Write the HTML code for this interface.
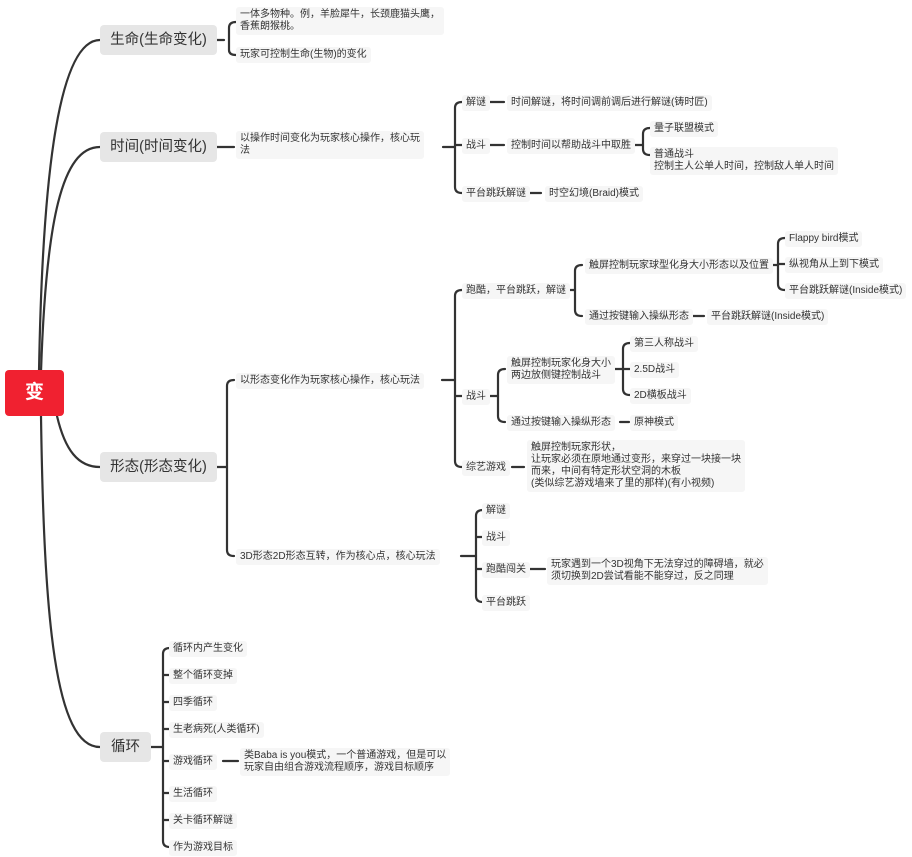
<!DOCTYPE html>
<html><head><meta charset="utf-8"><style>
body{margin:0;width:912px;height:857px;background:#fff;position:relative;overflow:hidden;font-family:"Liberation Sans","Noto Sans CJK SC",sans-serif;}
.t{position:absolute;font-size:10px;line-height:12px;color:#333;background:#f6f6f6;padding:2px 4px;border-radius:3px;white-space:nowrap;}
.m{position:absolute;font-size:14.5px;color:#333;background:#e6e6e6;border-radius:4px;text-align:center;line-height:30px;height:30px;}
svg{position:absolute;left:0;top:0;}
</style></head><body>
<svg width="912" height="857" fill="none" stroke="#333" stroke-width="2.2" stroke-linecap="round">
<path d="M39 372 C42 200,55 40,100 40"/>
<path d="M41 372 C46 220,62 147,100 147"/>
<path d="M57 416 C65 450,78 467,100 467"/>
<path d="M41 416 C44 620,55 747,100 747"/>
<path d="M217 40 H224"/>
<path d="M236 22 Q229 22 229 28 L229 50 Q229 55 236 55"/>
<path d="M217 147 H234"/>
<path d="M443 147 H455"/>
<path d="M462 102 Q455 102 455 108 L455 187 Q455 193 462 193 M455 145 H462"/>
<path d="M490 102 H504 M490 145 H504 M529 193 H541"/>
<path d="M632 145 H643"/>
<path d="M650 128 Q643 128 643 134 L643 149 Q643 155 650 155"/>
<path d="M217 467 H226"/>
<path d="M234 380 Q227 380 227 386 L227 550 Q227 556 234 556"/>
<path d="M442 380 H455"/>
<path d="M462 290 Q455 290 455 296 L455 461 Q455 467 462 467 M455 396 H462"/>
<path d="M568 290 H575"/>
<path d="M582 265 Q575 265 575 271 L575 310 Q575 316 582 316"/>
<path d="M768 265 H778"/>
<path d="M785 238 Q778 238 778 244 L778 284 Q778 290 785 290 M778 264 H785"/>
<path d="M691 316 H704"/>
<path d="M488 396 H498"/>
<path d="M505 369 Q498 369 498 375 L498 416 Q498 422 505 422"/>
<path d="M614 369 H623"/>
<path d="M630 343 Q623 343 623 349 L623 389 Q623 395 630 395 M623 369 H630"/>
<path d="M620 422 H629"/>
<path d="M512 467 H524"/>
<path d="M461 556 H476"/>
<path d="M483 510 Q476 510 476 516 L476 596 Q476 602 483 602 M476 537 H483 M476 569 H483"/>
<path d="M530 569 H545"/>
<path d="M151 747 H163"/>
<path d="M170 648 Q163 648 163 654 L163 841 Q163 847 170 847 M163 675 H170 M163 702 H170 M163 729 H170 M163 761 H170 M163 793 H170 M163 820 H170"/>
<path d="M223 761 H238"/>
</svg>
<div style="position:absolute;left:5px;top:370px;width:59px;height:46px;background:#f02130;border-radius:4px;color:#fff;font-weight:bold;font-size:19px;line-height:46px;text-align:center;">变</div>
<div class="m" style="left:100px;top:25px;width:117px;">生命(生命变化)</div>
<div class="m" style="left:100px;top:132px;width:117px;">时间(时间变化)</div>
<div class="m" style="left:100px;top:452px;width:117px;">形态(形态变化)</div>
<div class="m" style="left:100px;top:732px;width:51px;">循环</div>

<div class="t" style="left:236px;top:7px;">一体多物种。例，羊脸犀牛，长颈鹿猫头鹰，<br>香蕉朗猴桃。</div>
<div class="t" style="left:236px;top:47px;">玩家可控制生命(生物)的变化</div>

<div class="t" style="left:236px;top:131px;">以操作时间变化为玩家核心操作，核心玩<br>法</div>
<div class="t" style="left:462px;top:95px;">解谜</div>
<div class="t" style="left:507px;top:95px;">时间解谜，将时间调前调后进行解谜(铸时匠)</div>
<div class="t" style="left:462px;top:138px;">战斗</div>
<div class="t" style="left:507px;top:138px;">控制时间以帮助战斗中取胜</div>
<div class="t" style="left:650px;top:121px;">量子联盟模式</div>
<div class="t" style="left:650px;top:147px;">普通战斗<br>控制主人公单人时间，控制敌人单人时间</div>
<div class="t" style="left:462px;top:186px;">平台跳跃解谜</div>
<div class="t" style="left:545px;top:186px;">时空幻境(Braid)模式</div>

<div class="t" style="left:236px;top:373px;">以形态变化作为玩家核心操作，核心玩法</div>
<div class="t" style="left:462px;top:283px;">跑酷，平台跳跃，解谜</div>
<div class="t" style="left:585px;top:258px;">触屏控制玩家球型化身大小形态以及位置</div>
<div class="t" style="left:785px;top:231px;">Flappy bird模式</div>
<div class="t" style="left:785px;top:257px;">纵视角从上到下模式</div>
<div class="t" style="left:785px;top:283px;">平台跳跃解谜(Inside模式)</div>
<div class="t" style="left:585px;top:309px;">通过按键输入操纵形态</div>
<div class="t" style="left:707px;top:309px;">平台跳跃解谜(Inside模式)</div>
<div class="t" style="left:462px;top:389px;">战斗</div>
<div class="t" style="left:507px;top:356px;">触屏控制玩家化身大小<br>两边放侧键控制战斗</div>
<div class="t" style="left:630px;top:336px;">第三人称战斗</div>
<div class="t" style="left:630px;top:362px;">2.5D战斗</div>
<div class="t" style="left:630px;top:388px;">2D横板战斗</div>
<div class="t" style="left:507px;top:415px;">通过按键输入操纵形态</div>
<div class="t" style="left:630px;top:415px;">原神模式</div>
<div class="t" style="left:462px;top:460px;">综艺游戏</div>
<div class="t" style="left:527px;top:440px;">触屏控制玩家形状，<br>让玩家必须在原地通过变形，来穿过一块接一块<br>而来，中间有特定形状空洞的木板<br>(类似综艺游戏墙来了里的那样)(有小视频)</div>

<div class="t" style="left:236px;top:549px;">3D形态2D形态互转，作为核心点，核心玩法</div>
<div class="t" style="left:482px;top:503px;">解谜</div>
<div class="t" style="left:482px;top:530px;">战斗</div>
<div class="t" style="left:482px;top:562px;">跑酷闯关</div>
<div class="t" style="left:482px;top:595px;">平台跳跃</div>
<div class="t" style="left:547px;top:557px;">玩家遇到一个3D视角下无法穿过的障碍墙，就必<br>须切换到2D尝试看能不能穿过，反之同理</div>

<div class="t" style="left:169px;top:641px;">循环内产生变化</div>
<div class="t" style="left:169px;top:668px;">整个循环变掉</div>
<div class="t" style="left:169px;top:695px;">四季循环</div>
<div class="t" style="left:169px;top:722px;">生老病死(人类循环)</div>
<div class="t" style="left:169px;top:754px;">游戏循环</div>
<div class="t" style="left:240px;top:748px;">类Baba is you模式，一个普通游戏，但是可以<br>玩家自由组合游戏流程顺序，游戏目标顺序</div>
<div class="t" style="left:169px;top:786px;">生活循环</div>
<div class="t" style="left:169px;top:813px;">关卡循环解谜</div>
<div class="t" style="left:169px;top:840px;">作为游戏目标</div>
</body></html>
